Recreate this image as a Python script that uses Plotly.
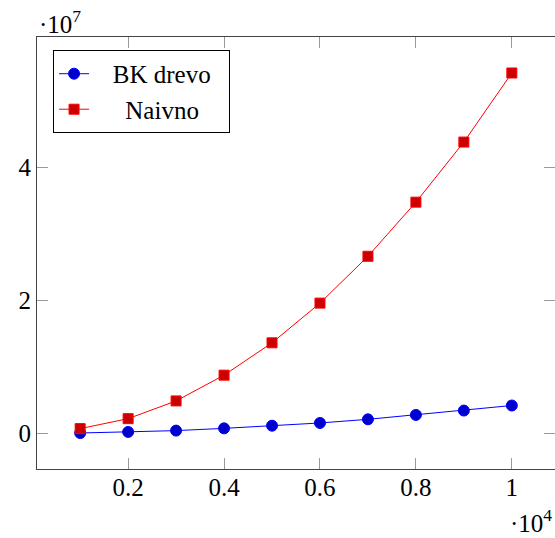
import plotly.graph_objects as go

n_values = [100, 200, 300, 400, 500, 600, 700, 800, 900, 1000]
bk_drevo = [0.004e7, 0.02e7, 0.04e7, 0.074e7, 0.114e7, 0.155e7, 0.21e7, 0.276e7, 0.342e7, 0.418e7]
naivno = [0.07e7, 0.22e7, 0.487e7, 0.875e7, 1.362e7, 1.96e7, 2.665e7, 3.48e7, 4.385e7, 5.425e7]

x_tickvals = [200, 400, 600, 800, 1000]
x_ticktext = ["0.2", "0.4", "0.6", "0.8", "1"]
y_tickvals = [0, 2e7, 4e7]
y_ticktext = ["0", "2", "4"]

FONT = "Liberation Serif"
FS = 25
NB = "\u00a0"

fig = go.Figure()
fig.add_trace(go.Scatter(
    x=n_values, y=bk_drevo, mode="lines+markers", name=NB * 3 + "BK drevo" + NB * 2,
    line=dict(color="#0000FF", width=1),
    marker=dict(symbol="circle", size=11, color="#0000CC", line=dict(color="#0000FF", width=1)),
))
fig.add_trace(go.Scatter(
    x=n_values, y=naivno, mode="lines+markers", name=NB * 5 + "Naivno",
    line=dict(color="#FF0000", width=1),
    marker=dict(symbol="square", size=10, color="#CC0000", line=dict(color="#FF0000", width=1)),
))

axis_common = dict(
    showgrid=False, zeroline=False, showline=True, linecolor="#444444", linewidth=1,
    mirror="ticks", ticks="inside", ticklen=11, tickwidth=1, tickcolor="#9a9a9a",
    tickfont=dict(family=FONT, size=FS, color="black"),
)

fig.update_xaxes(range=[10, 1090], tickmode="array", tickvals=x_tickvals, ticktext=x_ticktext,
                 ticklabelstandoff=-4, **axis_common)
fig.update_yaxes(range=[-0.538e7, 5.967e7], tickmode="array", tickvals=y_tickvals, ticktext=y_ticktext,
                 **axis_common)

fig.add_annotation(text="\u00b710<sup>7</sup>", xref="paper", yref="paper", x=0.0, y=1.0,
                   xanchor="left", yanchor="bottom", showarrow=False, yshift=-3,
                   font=dict(family=FONT, size=FS, color="black"))
fig.add_annotation(text="\u00b710<sup>4</sup>", xref="paper", yref="paper", x=0.998, y=-0.16,
                   xanchor="right", yanchor="bottom", showarrow=False, yshift=-1,
                   font=dict(family=FONT, size=FS, color="black"))

fig.update_layout(
    width=555, height=538,
    margin=dict(l=37, r=0, t=37, b=69),
    paper_bgcolor="white", plot_bgcolor="white",
    showlegend=True,
    legend=dict(x=0.031, y=0.97, xanchor="left", yanchor="top",
                bgcolor="white", bordercolor="black", borderwidth=1,
                font=dict(family=FONT, size=FS, color="black"),
                tracegroupgap=0),
)

fig.write_html("out.html")
